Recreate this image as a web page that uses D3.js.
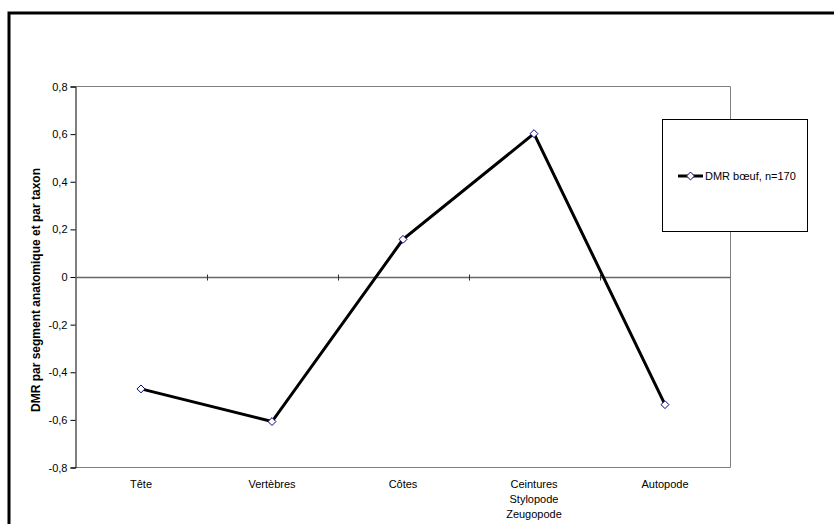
<!DOCTYPE html>
<html>
<head>
<meta charset="utf-8">
<script src="https://cdn.jsdelivr.net/npm/d3@7"></script>
<style>
  html, body { margin: 0; padding: 0; background: #fff; }
  svg { display: block; font-family: "Liberation Sans", Arial, sans-serif; }
</style>
</head>
<body>
<svg id="chart" width="834" height="524"></svg>
<script>
const categories = [["Tête"], ["Vertèbres"], ["Côtes"], ["Ceintures", "Stylopode", "Zeugopode"], ["Autopode"]];
const categoryKeys = ["Tête", "Vertèbres", "Côtes", "Ceintures", "Autopode"];
const seriesValues = [-0.47, -0.607, 0.158, 0.602, -0.536];
const yTicks = [-0.8, -0.6, -0.4, -0.2, 0, 0.2, 0.4, 0.6, 0.8];
const seriesName = "DMR bœuf, n=170";
const yTitle = "DMR par segment anatomique et par taxon";

const svg = d3.select("#chart");
const pLeft = 75.5, pRight = 730.5, pTop = 86.5, pBottom = 467.5;

// outer border
svg.append("rect").attr("x", 9).attr("y", 13).attr("width", 840).attr("height", 530)
  .attr("fill", "none").attr("stroke", "#000").attr("stroke-width", 3);

const x = d3.scaleBand().domain(categoryKeys).range([pLeft, pRight]);
const y = d3.scaleLinear().domain([-0.8, 0.8]).range([pBottom, pTop]);

// plot area border (gray)
svg.append("path")
  .attr("d", `M${pLeft},${pTop}H${pRight}V${pBottom}H${pLeft}`)
  .attr("fill", "none").attr("stroke", "#808080").attr("stroke-width", 1);

// y axis
const fmt = d3.format(".1f");
const yAxis = d3.axisLeft(y).tickValues(yTicks).tickSize(5).tickPadding(3)
  .tickFormat(d => (d === 0 ? "0" : fmt(d).replace(".", ",").replace("\u2212", "-")));
const gy = svg.append("g").attr("transform", `translate(${pLeft},0)`).call(yAxis);
gy.select(".domain").attr("stroke", "#000");
gy.selectAll(".tick line").attr("stroke", "#000");
gy.selectAll(".tick text").attr("font-size", 11).attr("fill", "#000")
  .attr("font-family", "Liberation Sans, Arial, sans-serif");

// zero (category) axis line
const y0 = Math.round(y(0)) + 0.5;
svg.append("line").attr("x1", pLeft).attr("x2", pRight).attr("y1", y0).attr("y2", y0)
  .attr("stroke", "#666").attr("stroke-width", 1.3);
// category boundary ticks
const bounds = categoryKeys.slice(1).map(k => x(k));
svg.selectAll(".ctick").data(bounds).enter().append("line")
  .attr("x1", d => Math.round(d) + 0.5).attr("x2", d => Math.round(d) + 0.5)
  .attr("y1", y0 - 3).attr("y2", y0 + 3)
  .attr("stroke", "#333").attr("stroke-width", 1);

// category labels
const xl = svg.append("g");
categories.forEach((lines, i) => {
  const cx = x(categoryKeys[i]) + x.bandwidth() / 2;
  const t = xl.append("text").attr("text-anchor", "middle").attr("font-size", 11).attr("fill", "#000");
  lines.forEach((l, j) => {
    t.append("tspan").attr("x", cx).attr("y", 488 + j * 15).text(l);
  });
});

// y title
svg.append("text")
  .attr("transform", `translate(40,290) rotate(-90)`)
  .attr("text-anchor", "middle").attr("font-size", 12).attr("font-weight", "bold")
  .text(yTitle);

// line
const pts = categoryKeys.map((k, i) => [x(k) + x.bandwidth() / 2, y(seriesValues[i])]);
svg.append("path").attr("d", d3.line()(pts))
  .attr("fill", "none").attr("stroke", "#000").attr("stroke-width", 3).attr("stroke-linejoin", "miter");

const diamond = d3.symbol().type(d3.symbolDiamond2).size(40);
svg.selectAll(".mk").data(pts).enter().append("path")
  .attr("d", diamond).attr("transform", d => `translate(${d[0]},${d[1]})`)
  .attr("fill", "#fff").attr("stroke", "#000080").attr("stroke-width", 1);

// legend
const lg = svg.append("g");
lg.append("rect").attr("x", 662.5).attr("y", 119.5).attr("width", 145).attr("height", 112)
  .attr("fill", "#fff").attr("stroke", "#000").attr("stroke-width", 1);
lg.append("line").attr("x1", 678).attr("x2", 703).attr("y1", 176).attr("y2", 176)
  .attr("stroke", "#000").attr("stroke-width", 3);
lg.append("path").attr("d", diamond).attr("transform", "translate(690.5,176)")
  .attr("fill", "#fff").attr("stroke", "#000080").attr("stroke-width", 1);
lg.append("text").attr("x", 705).attr("y", 180).attr("font-size", 11).text(seriesName);
</script>
</body>
</html>
